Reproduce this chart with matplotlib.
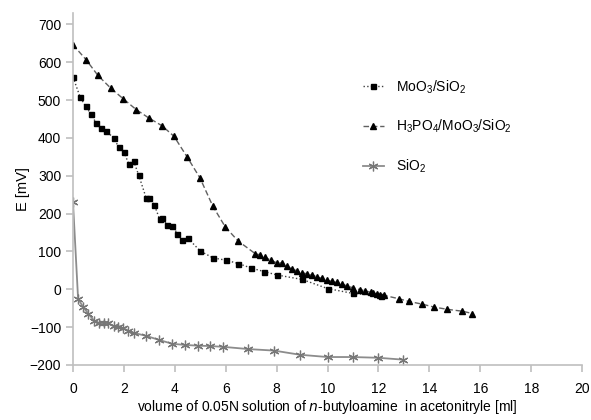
import matplotlib.pyplot as plt

plt.rcParams['font.family'] = ['Liberation Sans', 'DejaVu Sans']
plt.rcParams['mathtext.default'] = 'regular'

# MoO3/SiO2
moo3_x = [0, 0.28, 0.5, 0.71, 0.9, 1.1, 1.3, 1.6, 1.8, 2.0, 2.19, 2.38, 2.58, 2.87, 3.0,
          3.2, 3.4, 3.5, 3.7, 3.9, 4.1, 4.3, 4.5, 5.0, 5.5, 6.0, 6.5, 7.0, 7.5, 8.0,
          9.0, 10.0, 11.0, 12.1]
moo3_y = [561, 508, 483, 463, 440, 426, 418, 400, 375, 362, 332, 339, 302, 242, 240,
          222, 186, 189, 169, 168, 147, 129, 136, 101, 83, 77, 68, 56, 47, 38,
          26, 2, -11, -17]

# H3PO4/MoO3/SiO2
hpmo_x = [0, 0.51, 0.98, 1.49, 1.98, 2.48, 2.97, 3.5, 3.97, 4.49, 4.99, 5.49, 5.98,
          6.48, 7.16, 7.35, 7.55, 7.77, 8.03, 8.2, 8.39, 8.59, 8.79, 8.98, 9.18,
          9.38, 9.57, 9.77, 9.97, 10.16, 10.36, 10.56, 10.76, 11.0, 11.28, 11.49,
          11.69, 11.8, 11.93, 12.06, 12.22, 12.8, 13.19, 13.7, 14.18, 14.71, 15.3, 15.69]
hpmo_y = [646, 607, 565, 531, 503, 475, 453, 432, 404, 349, 294, 220, 165,
          128, 94, 91, 84, 77, 69, 70, 61, 54, 49, 44, 41,
          38, 33, 29, 24, 21, 18, 14, 9, 4, -1, -4,
          -8, -10, -12, -14, -16, -25, -32, -39, -47, -53, -58, -64]

# SiO2
sio2_x = [0, 0.2, 0.4, 0.6, 0.84, 1.02, 1.2, 1.38, 1.6, 1.78, 1.98, 2.17, 2.38, 2.87,
          3.39, 3.9, 4.4, 4.9, 5.4, 5.89, 6.89, 7.9, 8.92, 10.0, 10.98, 12.0, 12.98]
sio2_y = [230, -25, -47, -64, -84, -89, -90, -90, -97, -100, -103, -109, -115, -123,
          -134, -144, -147, -149, -150, -152, -158, -162, -173, -179, -179, -181, -186]

fig = plt.figure(figsize=(5.91, 4.2), dpi=100)
ax = fig.add_axes([0.1235, 0.131, 0.8615, 0.838])

ax.plot(moo3_x, moo3_y, color='#404040', linestyle=':', linewidth=1.0,
        marker='s', markersize=3.6, markerfacecolor='black', markeredgecolor='black',
        label='MoO$_3$/SiO$_2$')
ax.plot(hpmo_x, hpmo_y, color='#606060', linestyle=(0, (4, 2)), linewidth=1.0,
        marker='^', markersize=4.6, markerfacecolor='black', markeredgecolor='black',
        label='H$_3$PO$_4$/MoO$_3$/SiO$_2$')
ax.plot(sio2_x, sio2_y, color='#8c8c8c', linestyle='-', linewidth=1.3,
        marker=(6, 2, 0), markersize=7, markeredgecolor='#777777', markeredgewidth=0.9,
        label='SiO$_2$')

ax.set_xlim(0, 20)
ax.set_ylim(-200, 730)
ax.set_xticks(range(0, 21, 2))
ax.set_yticks(range(-200, 701, 100))

for s in ['top', 'right']:
    ax.spines[s].set_visible(False)
for s in ['left', 'bottom']:
    ax.spines[s].set_color('#bfbfbf')
    ax.spines[s].set_linewidth(1.2)
ax.tick_params(colors='#bfbfbf', labelcolor='black', labelsize=10, length=5, width=1.2)
ax.tick_params(axis='x', pad=7)

ax.set_ylabel('E [mV]', fontsize=10.5)
ax.yaxis.set_label_coords(-0.085, 0.5)
ax.set_xlabel('volume of 0.05N solution of $\\it{n}$-butyloamine  in acetonitryle [ml]',
              fontsize=10, labelpad=2)

ax.legend(loc='upper left', bbox_to_anchor=(0.545, 0.85), frameon=False, fontsize=10,
          handlelength=1.5, labelspacing=1.6, handletextpad=0.9)

fig.savefig('out.png', dpi=100)
